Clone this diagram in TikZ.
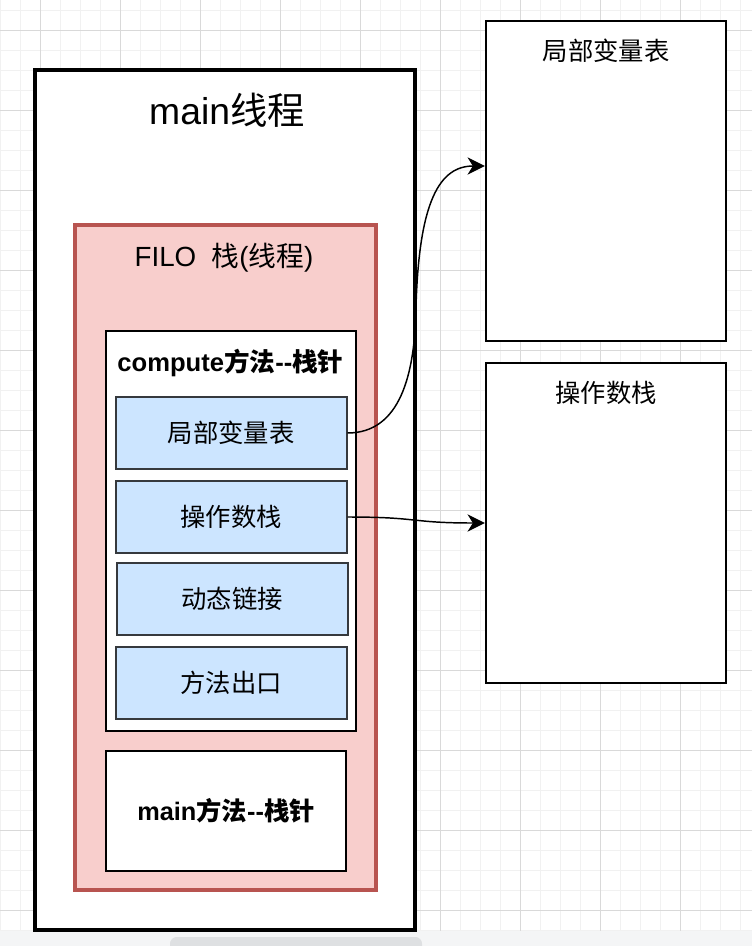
\documentclass[tikz,border=0pt]{standalone}
\usepackage{fontspec}
\setmainfont{Liberation Sans}
\newfontfamily\cjk{Noto Sans CJK SC}
\usetikzlibrary{arrows.meta}
\definecolor{filofill}{HTML}{F8CECC}
\definecolor{filodraw}{HTML}{B85450}
\definecolor{bluefill}{HTML}{CCE5FF}
\definecolor{bluedraw}{HTML}{36393D}
\definecolor{gridmajor}{HTML}{D9D9D9}
\definecolor{gridminor}{HTML}{F1F1F1}
\definecolor{barbg}{HTML}{F4F5F6}
\definecolor{barthumb}{HTML}{DEE0E2}
\begin{document}
\begin{tikzpicture}[x=0.75pt,y=-0.75pt,
  wh/.style 2 args={minimum width={#1*0.75pt}, minimum height={#2*0.75pt}},
  box/.style={draw, rectangle, inner sep=0pt, fill=white},
  bluebox/.style={box, fill=bluefill, draw=bluedraw, line width=1.5pt, wh={230.5}{72}, font=\fontsize{19}{23}\selectfont\cjk},
  sidebox/.style={box, line width=1.7pt, wh={240}{320}},
  toptext/.style={inner sep=0pt, font=\fontsize{19}{23}\selectfont\cjk},
  conn/.style={line width=1.1pt, -{Stealth[length=13pt,width=13pt,inset=4pt]}},
  gmin/.style={draw=gridminor, line width=0.75pt},
  gmaj/.style={draw=gridmajor, line width=0.75pt}
]
\clip (0,0) rectangle (752,946);
\useasboundingbox (0,0) rectangle (752,946);
\fill[white] (0,0) rectangle (752,946);
% grid
\foreach \x in {0,20,...,740} \path[gmin] (\x,0) -- (\x,931);
\foreach \y in {10,30,...,930} \path[gmin] (0,\y) -- (752,\y);
\foreach \x in {40,120,...,680} \path[gmaj] (\x,0) -- (\x,931);
\foreach \y in {30,110,...,910} \path[gmaj] (0,\y) -- (752,\y);
% bottom bar
\fill[barbg] (0,931) rectangle (752,946);
\fill[barthumb, rounded corners=5pt] (170,937) rectangle (422,956);

% main thread box
\node[box, line width=2.5pt, wh={380}{860}] (mainbox) at (225,500) {};
\node[inner sep=0pt, font=\fontsize{28}{34}\selectfont] (maintitle) at (227,110) {main{\cjk 线程}};

% FILO stack
\node[box, fill=filofill, draw=filodraw, line width=2.4pt, wh={301}{665}] (filo) at (225.5,557.5) {};
\node[inner sep=0pt, font=\fontsize{20.8}{25}\selectfont] (filotitle) at (224,258) {FILO\ \ {\cjk 栈}({\cjk 线程})};

% compute frame
\node[box, line width=1.6pt, wh={250}{400}] (compute) at (231,531) {};
\node[inner sep=0pt, font=\fontsize{19.2}{23}\selectfont\bfseries] (computetitle) at (230.5,363) {compute{\cjk\bfseries 方法}-{}-{\cjk\bfseries 栈针}};

\node[bluebox] (b1) at (231.25,433) {局部变量表};
\node[bluebox] (b2) at (231.25,517) {操作数栈};
\node[bluebox] (b3) at (232.25,599) {动态链接};
\node[bluebox] (b4) at (231.25,683) {方法出口};

% main method frame
\node[box, line width=1.6pt, wh={240}{120}, font=\fontsize{19}{23}\selectfont\bfseries] (mainm) at (226,811) {main{\cjk\bfseries 方法}-{}-{\cjk\bfseries 栈针}};

% side boxes
\node[sidebox] (r1) at (606,181) {};
\node[toptext] (r1title) at (606,51) {局部变量表};
\node[sidebox] (r2) at (606,523) {};
\node[toptext] (r2title) at (606,393) {操作数栈};

% connectors
\draw[conn] (b1.east) .. controls (400,433) and (415,375) .. (416,307)
  .. controls (419,200) and (440,166) .. ([yshift=11.25pt]r1.west);
\draw[conn] (b2.east) .. controls (420,517) and (410,523) .. (r2.west);
\end{tikzpicture}
\end{document}
